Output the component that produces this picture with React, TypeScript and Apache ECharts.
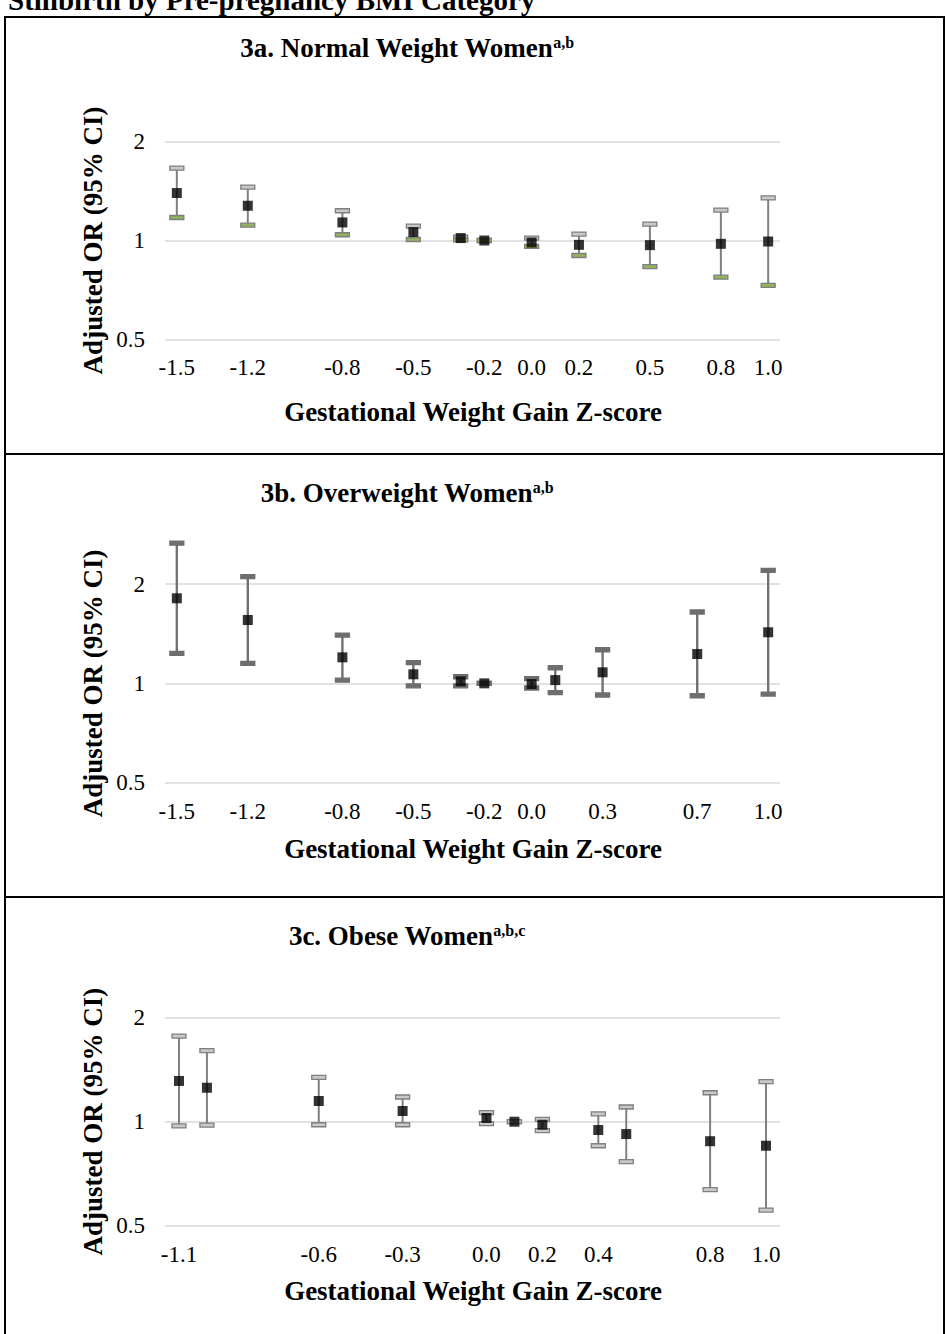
import React, { useEffect, useRef } from "react";
import * as echarts from "echarts";

const headerText = "Stillbirth by Pre-pregnancy BMI Category";
const panelTitles = ["3a. Normal Weight Women", "3b. Overweight Women", "3c. Obese Women"];
const titleSups = ["a,b", "a,b", "a,b,c"];
const yAxisName = "Adjusted OR (95% CI)";
const xAxisName = "Gestational Weight Gain Z-score";
const yTicks = [0.5, 1, 2];

// Panel 3a – normal weight
const zA = [-1.5, -1.2, -0.8, -0.5, -0.3, -0.2, 0.0, 0.2, 0.5, 0.8, 1.0];
const orA = [1.395, 1.276, 1.135, 1.061, 1.017, 1.0, 0.986, 0.97, 0.968, 0.977, 0.993];
const loA = [1.175, 1.114, 1.041, 1.007, 1.005, 1.0, 0.959, 0.9, 0.833, 0.773, 0.73];
const hiA = [1.662, 1.454, 1.232, 1.106, 1.024, 1.0, 1.017, 1.046, 1.122, 1.238, 1.349];
const ticksA = [-1.5, -1.2, -0.8, -0.5, -0.2, 0.0, 0.2, 0.5, 0.8, 1.0];

// Panel 3b – overweight
const zB = [-1.5, -1.2, -0.8, -0.5, -0.3, -0.2, 0.0, 0.1, 0.3, 0.7, 1.0];
const orB = [1.81, 1.556, 1.199, 1.065, 1.014, 1.0, 0.995, 1.023, 1.08, 1.227, 1.428];
const loB = [1.233, 1.15, 1.023, 0.983, 0.983, 1.0, 0.968, 0.937, 0.922, 0.917, 0.928];
const hiB = [2.66, 2.105, 1.4, 1.155, 1.047, 1.0, 1.033, 1.115, 1.264, 1.645, 2.2];
const ticksB = [-1.5, -1.2, -0.8, -0.5, -0.2, 0.0, 0.3, 0.7, 1.0];

// Panel 3c – obese
const zC = [-1.1, -1.0, -0.6, -0.3, 0.0, 0.1, 0.2, 0.4, 0.5, 0.8, 1.0];
const orC = [1.312, 1.254, 1.148, 1.074, 1.025, 1.0, 0.98, 0.946, 0.921, 0.878, 0.852];
const loC = [0.972, 0.978, 0.98, 0.98, 0.987, 1.0, 0.942, 0.852, 0.766, 0.636, 0.555];
const hiC = [1.77, 1.605, 1.344, 1.179, 1.062, 1.0, 1.016, 1.053, 1.103, 1.213, 1.306];
const ticksC = [-1.1, -0.6, -0.3, 0.0, 0.2, 0.4, 0.8, 1.0];

const SERIF = "'Liberation Serif', 'Times New Roman', serif";

type Panel = {
  z: number[]; or: number[]; lo: number[]; hi: number[]; ticks: number[];
  xMin: number; xMax: number;
  top: number; height: number;
  titleY: number; labelGap: number; xNameY: number;
  capTop: string; capBot: string; capStroke: string; whisker: string; whiskerW: number;
};

const panels: Panel[] = [
  { z: zA, or: orA, lo: loA, hi: hiA, ticks: ticksA, xMin: -1.55, xMax: 1.05,
    top: 141.7, height: 197.6, titleY: 48, labelGap: 17, xNameY: 412,
    capTop: "#c9c9c9", capBot: "#93b35c", capStroke: "#7f7f7f", whisker: "#808080", whiskerW: 2 },
  { z: zB, or: orB, lo: loB, hi: hiB, ticks: ticksB, xMin: -1.55, xMax: 1.05,
    top: 584, height: 198.7, titleY: 493, labelGap: 17, xNameY: 849,
    capTop: "#6e6e6e", capBot: "#6e6e6e", capStroke: "#6e6e6e", whisker: "#727272", whiskerW: 2.4 },
  { z: zC, or: orC, lo: loC, hi: hiC, ticks: ticksC, xMin: -1.15, xMax: 1.05,
    top: 1017.7, height: 208, titleY: 936, labelGap: 17, xNameY: 1291,
    capTop: "#c9c9c9", capBot: "#c9c9c9", capStroke: "#7f7f7f", whisker: "#808080", whiskerW: 2 },
];

const GRID_LEFT = 165;
const GRID_WIDTH = 615;

function buildOption() {
  const grid: any[] = [];
  const xAxis: any[] = [];
  const yAxis: any[] = [];
  const series: any[] = [];
  const graphic: any[] = [];

  panels.forEach((p, i) => {
    grid.push({ left: GRID_LEFT, top: p.top, width: GRID_WIDTH, height: p.height, containLabel: false });
    xAxis.push({
      type: "value", gridIndex: i, min: p.xMin, max: p.xMax, interval: 0.05,
      axisLine: { show: false }, axisTick: { show: false }, splitLine: { show: false },
      axisLabel: {
        margin: p.labelGap, fontSize: 23, color: "#000", fontFamily: SERIF,
        formatter: (v: number) => {
          const r = Math.round(v * 100) / 100;
          const hit = p.ticks.some((t) => Math.abs(t - r) < 1e-6);
          if (!hit) return "";
          const rr = Math.abs(r) < 1e-9 ? 0 : r;
          return rr.toFixed(1);
        },
      },
    });
    yAxis.push({
      type: "log", logBase: 2, gridIndex: i, min: 0.5, max: 2,
      axisLine: { show: false }, axisTick: { show: false },
      splitLine: { show: true, lineStyle: { color: "#d9d9d9", width: 1.6 } },
      axisLabel: {
        margin: 20, fontSize: 23, color: "#000", fontFamily: SERIF,
        formatter: (v: number) => {
          const hit = yTicks.find((t) => Math.abs(t - v) < 1e-6);
          return hit === undefined ? "" : String(hit);
        },
      },
    });

    const ciData = p.z.map((z, k) => [z, p.lo[k], p.hi[k]]);
    series.push({
      type: "custom", xAxisIndex: i, yAxisIndex: i, data: ciData, clip: false, z: 2,
      renderItem: (params: any, api: any) => {
        const x = api.value(0);
        const pLo = api.coord([x, api.value(1)]);
        const pHi = api.coord([x, api.value(2)]);
        const w = 14, h = 4;
        return {
          type: "group",
          children: [
            { type: "line", shape: { x1: pLo[0], y1: pLo[1], x2: pHi[0], y2: pHi[1] },
              style: { stroke: p.whisker, lineWidth: p.whiskerW } },
            { type: "rect", shape: { x: pHi[0] - w / 2, y: pHi[1] - h / 2, width: w, height: h },
              style: { fill: p.capTop, stroke: p.capStroke, lineWidth: 1.3 } },
            { type: "rect", shape: { x: pLo[0] - w / 2, y: pLo[1] - h / 2, width: w, height: h },
              style: { fill: p.capBot, stroke: p.capStroke, lineWidth: 1.3 } },
          ],
        };
      },
    });
    series.push({
      type: "scatter", xAxisIndex: i, yAxisIndex: i, z: 3,
      symbol: "rect", symbolSize: 10, itemStyle: { color: "#000" },
      data: p.z.map((z, k) => [z, p.or[k]]),
    });

    const yMid = p.top + p.height / 2;
    graphic.push({
      type: "text", x: 407, y: p.titleY,
      style: {
        text: `{m|${panelTitles[i]}}{s|${titleSups[i]}}`,
        align: "center", verticalAlign: "middle",
        rich: {
          m: { fontSize: 27, fontWeight: "bold", fontFamily: SERIF, fill: "#000", color: "#000" },
          s: { fontSize: 16, fontWeight: "bold", fontFamily: SERIF, fill: "#000", color: "#000", verticalAlign: "top", padding: [0, 0, 10, 0] },
        },
      },
    });
    graphic.push({
      type: "text", x: 93, y: yMid, rotation: Math.PI / 2,
      style: { text: yAxisName, font: `bold 27px ${SERIF}`, fill: "#000", align: "center", verticalAlign: "middle" },
    });
    graphic.push({
      type: "text", x: 473, y: p.xNameY,
      style: { text: xAxisName, font: `bold 27px ${SERIF}`, fill: "#000", align: "center", verticalAlign: "middle" },
    });
  });

  // table borders and header (header cut off at the page top)
  graphic.push({
    type: "text", x: 8, y: 14,
    style: { text: headerText, font: `bold 29px ${SERIF}`, fill: "#000", align: "left", verticalAlign: "bottom" },
  });
  const bw = 2;
  graphic.push({ type: "line", shape: { x1: 5, y1: 17, x2: 945, y2: 17 }, style: { stroke: "#000", lineWidth: bw } });
  graphic.push({ type: "line", shape: { x1: 5, y1: 16, x2: 5, y2: 1334 }, style: { stroke: "#000", lineWidth: bw } });
  graphic.push({ type: "line", shape: { x1: 944, y1: 16, x2: 944, y2: 1334 }, style: { stroke: "#000", lineWidth: bw } });
  graphic.push({ type: "line", shape: { x1: 5, y1: 454, x2: 945, y2: 454 }, style: { stroke: "#000", lineWidth: bw } });
  graphic.push({ type: "line", shape: { x1: 5, y1: 897, x2: 945, y2: 897 }, style: { stroke: "#000", lineWidth: bw } });

  return { animation: false, backgroundColor: "#fff", grid, xAxis, yAxis, series, graphic };
}

export default function App() {
  const ref = useRef<HTMLDivElement>(null);
  useEffect(() => {
    if (!ref.current) return;
    const chart = echarts.init(ref.current, undefined, { renderer: "svg" });
    chart.setOption(buildOption() as any);
    return () => chart.dispose();
  }, []);
  return (
    <div
      ref={ref}
      style={{ position: "absolute", left: 0, top: 0, width: 945, height: 1334, background: "#fff" }}
    />
  );
}
